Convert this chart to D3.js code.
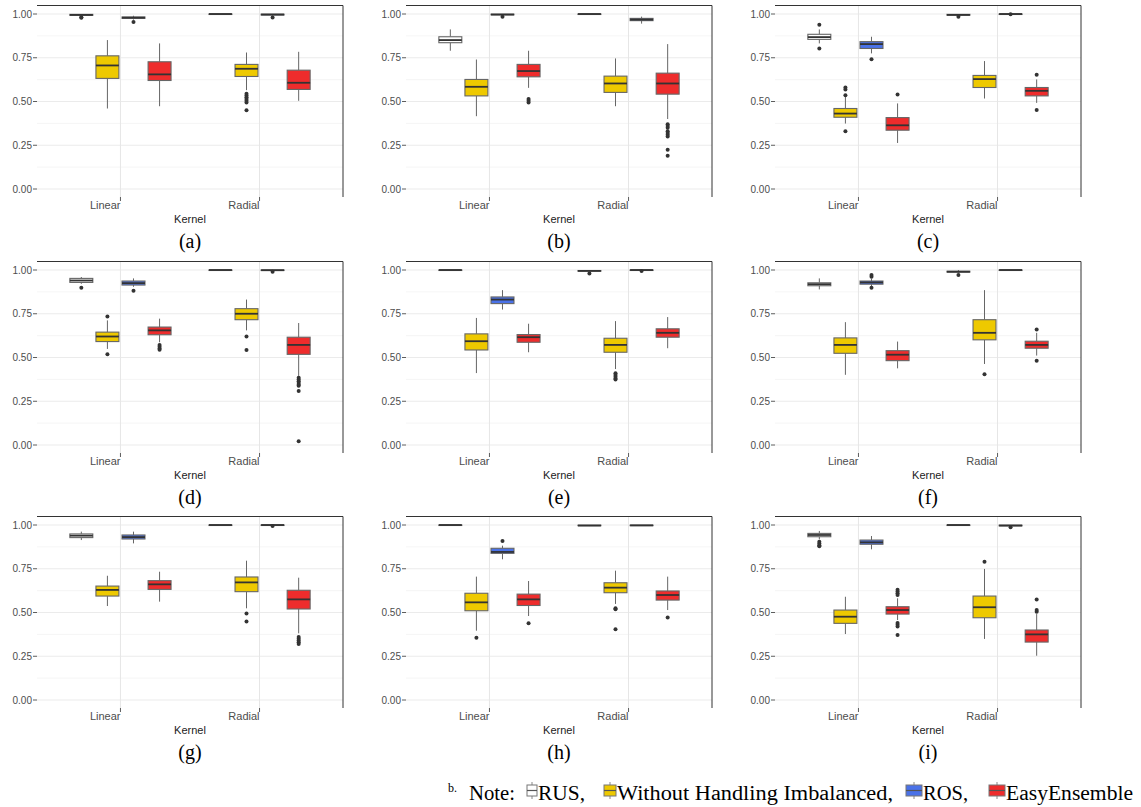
<html>
<head>
<script src="https://d3js.org/d3.v7.min.js"></script>
<style>
  body { margin: 0; background: white; }
  .tick-label { font: 10px "Liberation Sans", Arial, sans-serif; fill: #4d4d4d; }
  .axis-title { font: 11px "Liberation Sans", Arial, sans-serif; fill: #222; }
  .caption { font: 20px "Liberation Serif", "Times New Roman", serif; fill: #000; }
  .legend { font: 20px "Liberation Serif", "Times New Roman", serif; fill: #000; }
</style>
</head>
<body>
<svg id="chart" width="1141" height="807"></svg>
<script>
// categories
var captions = ["(a)", "(b)", "(c)", "(d)", "(e)", "(f)", "(g)", "(h)", "(i)"];
var kernels = ["Linear", "Radial"];
var methods = ["RUS", "Without Handling Imbalanced", "ROS", "EasyEnsemble"];
var yTicks = [0, 0.25, 0.5, 0.75, 1];
var yMinor = [0.125, 0.375, 0.625, 0.875];

// box stats per panel: [lower whisker, q1, median, q3, upper whisker]
// order: Linear RUS, Without, ROS, EasyEnsemble, then Radial RUS, Without, ROS, EasyEnsemble
var boxA = [[0.988,0.992,0.995,0.998,1.0],[0.46,0.632,0.706,0.761,0.851],[0.968,0.975,0.979,0.983,0.99],[0.473,0.62,0.655,0.727,0.832],
            [0.999,1,1,1,1],[0.565,0.643,0.687,0.712,0.78],[0.99,0.994,0.997,0.999,1.0],[0.504,0.569,0.607,0.679,0.784]];
var outA = [[0.982,0.978],[],[0.955],[],[],[0.545,0.535,0.525,0.515,0.505,0.495,0.45],[0.98],[]];

var boxB = [[0.79,0.836,0.851,0.87,0.912],[0.416,0.532,0.584,0.626,0.74],[0.99,0.995,0.997,0.999,1.0],[0.578,0.641,0.674,0.712,0.79],
            [0.999,1,1,1,1],[0.473,0.552,0.603,0.645,0.746],[0.945,0.962,0.968,0.975,0.985],[0.40,0.542,0.603,0.662,0.828]];
var outB = [[],[],[0.985],[0.515,0.505,0.495],[],[],[],[0.37,0.36,0.35,0.33,0.32,0.31,0.30,0.225,0.19]];

var boxC = [[0.832,0.855,0.868,0.884,0.912],[0.374,0.41,0.431,0.46,0.527],[0.775,0.803,0.828,0.842,0.87],[0.263,0.336,0.364,0.408,0.489],
            [0.99,0.993,0.995,0.998,1.0],[0.517,0.58,0.628,0.649,0.731],[0.999,1,1,1,1],[0.492,0.532,0.561,0.58,0.626]];
var outC = [[0.939,0.803],[0.58,0.569,0.536,0.33],[0.742],[0.54],[0.985],[],[0.998],[0.653,0.452]];

var boxD = [[0.921,0.929,0.94,0.952,0.96],[0.549,0.591,0.62,0.645,0.712],[0.904,0.914,0.925,0.937,0.952],[0.587,0.63,0.655,0.674,0.722],
            [0.999,1,1,1,1],[0.655,0.716,0.75,0.779,0.831],[0.995,0.997,0.999,1,1],[0.395,0.518,0.572,0.616,0.697]];
var outD = [[0.898],[0.735,0.518],[0.881],[0.572,0.562,0.552,0.545],[],[0.62,0.543],[0.99],[0.385,0.375,0.365,0.355,0.345,0.338,0.309,0.021]];

var boxE = [[0.999,1,1,1,1],[0.411,0.543,0.593,0.635,0.726],[0.774,0.808,0.831,0.846,0.885],[0.53,0.587,0.616,0.631,0.693],
            [0.99,0.993,0.995,0.997,1.0],[0.434,0.53,0.572,0.61,0.708],[0.998,1,1,1,1],[0.553,0.616,0.641,0.664,0.731]];
var outE = [[],[],[],[],[0.98],[0.41,0.40,0.39,0.38,0.375],[0.995],[]];

var boxF = [[0.889,0.91,0.919,0.927,0.952],[0.401,0.524,0.572,0.612,0.702],[0.905,0.919,0.929,0.937,0.95],[0.438,0.482,0.516,0.539,0.591],
            [0.985,0.988,0.99,0.993,1.0],[0.463,0.601,0.641,0.716,0.885],[0.999,1,1,1,1],[0.511,0.553,0.572,0.593,0.641]];
var outF = [[],[],[0.971,0.962,0.898],[],[0.971],[0.405],[],[0.66,0.482]];

var boxG = [[0.914,0.928,0.939,0.949,0.962],[0.537,0.594,0.629,0.651,0.71],[0.895,0.92,0.931,0.943,0.962],[0.562,0.632,0.661,0.682,0.733],
            [0.999,1,1,1,1],[0.524,0.619,0.672,0.703,0.796],[0.998,1,1,1,1],[0.381,0.52,0.575,0.627,0.699]];
var outG = [[],[],[],[],[],[0.495,0.448],[0.995],[0.36,0.35,0.34,0.33,0.32]];

var boxH = [[0.999,1,1,1,1],[0.396,0.51,0.558,0.61,0.705],[0.804,0.838,0.846,0.867,0.882],[0.48,0.54,0.575,0.605,0.68],
            [0.994,0.996,0.997,0.999,1.0],[0.549,0.613,0.642,0.67,0.739],[0.995,0.997,0.998,0.999,1],[0.514,0.571,0.6,0.623,0.705]];
var outH = [[],[0.356],[0.909],[0.438],[],[0.524,0.518,0.404],[],[0.472]];

var boxI = [[0.918,0.933,0.943,0.952,0.966],[0.377,0.438,0.476,0.514,0.59],[0.861,0.89,0.901,0.914,0.937],[0.457,0.491,0.514,0.533,0.581],
            [0.999,1,1,1,1],[0.349,0.47,0.53,0.594,0.749],[0.992,0.995,0.997,0.999,1.0],[0.253,0.331,0.375,0.40,0.491]];
var outI = [[0.905,0.895,0.885,0.878],[],[],[0.63,0.62,0.61,0.60,0.44,0.43,0.42,0.371],[],[0.79],[0.987],[0.575,0.514,0.505]];

var allBoxes = [boxA, boxB, boxC, boxD, boxE, boxF, boxG, boxH, boxI];
var allOut = [outA, outB, outC, outD, outE, outF, outG, outH, outI];

var fills = d3.scaleOrdinal().domain(methods).range(["#ffffff", "#eec900", "#4a72e8", "#ee2c2c"]);

var svg = d3.select("#chart");
var colLeft = [37, 406, 775];
var rowTop = [5, 261, 516];
var pw = 306, ph = 192;

captions.forEach(function(cap, p) {
  var left = colLeft[p % 3], top = rowTop[Math.floor(p / 3)];
  var g = svg.append("g").attr("transform", "translate(" + left + "," + top + ")");

  var x = d3.scaleLinear().domain([0.4, 2.6]).range([0, pw]);
  var y = d3.scaleLinear().domain([0, 1]).range([184, 9]);
  var dodge = d3.scaleBand().domain(methods).range([-0.375, 0.375]).paddingInner(0.12).paddingOuter(0.06);
  var unit = x(1) - x(0);

  // grid
  g.selectAll(".minor").data(yMinor).enter().append("line")
    .attr("x1", 0).attr("x2", pw).attr("y1", d => y(d)).attr("y2", d => y(d))
    .attr("stroke", "#f3f3f3").attr("stroke-width", 0.8);
  g.selectAll(".major").data(yTicks).enter().append("line")
    .attr("x1", 0).attr("x2", pw).attr("y1", d => y(d)).attr("y2", d => y(d))
    .attr("stroke", "#ebebeb").attr("stroke-width", 1.2);
  g.selectAll(".vgrid").data(kernels).enter().append("line")
    .attr("x1", (d, i) => x(i + 1)).attr("x2", (d, i) => x(i + 1))
    .attr("y1", 0).attr("y2", ph)
    .attr("stroke", "#e6e6e6").attr("stroke-width", 1);

  // panel border (top and right)
  g.append("path").attr("d", "M0,0.5H" + pw + "V" + ph)
    .attr("fill", "none").attr("stroke", "#333").attr("stroke-width", 1);

  // y axis
  var ya = g.append("g");
  ya.selectAll("line").data(yTicks).enter().append("line")
    .attr("x1", -4).attr("x2", 0).attr("y1", d => y(d)).attr("y2", d => y(d))
    .attr("stroke", "#333").attr("stroke-width", 0.8);
  ya.selectAll("text").data(yTicks).enter().append("text")
    .attr("class", "tick-label").attr("x", -5).attr("y", d => y(d)).attr("dy", "0.35em")
    .attr("text-anchor", "end").text(d => d3.format(".2f")(d));

  // x axis
  var xa = g.append("g");
  xa.selectAll("line").data(kernels).enter().append("line")
    .attr("x1", (d, i) => x(i + 1)).attr("x2", (d, i) => x(i + 1))
    .attr("y1", ph).attr("y2", ph + 4).attr("stroke", "#333").attr("stroke-width", 0.8);
  xa.selectAll("text").data(kernels).enter().append("text")
    .attr("class", "tick-label").attr("x", (d, i) => x(i + 1)).attr("y", ph + 12)
    .attr("text-anchor", "end").style("font-size", "11px").text(d => d);
  g.append("text").attr("class", "axis-title").attr("x", pw / 2).attr("y", ph + 26)
    .attr("text-anchor", "middle").text("Kernel");

  // boxes
  var stats = allBoxes[p], outs = allOut[p];
  stats.forEach(function(s, k) {
    var kern = Math.floor(k / 4), m = methods[k % 4];
    var cx = x(kern + 1) + (dodge(m) + dodge.bandwidth() / 2) * unit;
    var bw = dodge.bandwidth() * unit;
    var b = g.append("g");
    b.append("line").attr("x1", cx).attr("x2", cx).attr("y1", y(s[4])).attr("y2", y(s[3]))
      .attr("stroke", "#666").attr("stroke-width", 1);
    b.append("line").attr("x1", cx).attr("x2", cx).attr("y1", y(s[1])).attr("y2", y(s[0]))
      .attr("stroke", "#666").attr("stroke-width", 1);
    b.append("rect").attr("x", cx - bw / 2).attr("width", bw)
      .attr("y", y(s[3])).attr("height", Math.max(0.5, y(s[1]) - y(s[3])))
      .attr("fill", fills(m)).attr("stroke", "#666").attr("stroke-width", 1.1);
    b.append("line").attr("x1", cx - bw / 2).attr("x2", cx + bw / 2)
      .attr("y1", y(s[2])).attr("y2", y(s[2]))
      .attr("stroke", "#333").attr("stroke-width", 1.8);
    b.selectAll("circle").data(outs[k]).enter().append("circle")
      .attr("cx", cx).attr("cy", d => y(d)).attr("r", 2)
      .attr("fill", "#333");
  });

  // caption
  svg.append("text").attr("class", "caption")
    .attr("x", left + pw / 2).attr("y", top + 243)
    .attr("text-anchor", "middle").text(cap);
});

// legend (note line under the figure)
var legendText = ["RUS,", "Without Handling Imbalanced,", "ROS,", "EasyEnsemble"];
var legendStart = [538, 617, 923, 1006];
var legendWidth = [47, 276, 45, 127];
var iconWidth = [10, 12, 16, 16];
var ly = 800;
var lg = svg.append("g");
lg.append("text").attr("class", "legend").attr("x", 448).attr("y", ly - 8)
  .style("font-size", "12px").text("b.");
lg.append("text").attr("class", "legend").attr("x", 469).attr("y", ly)
  .attr("textLength", 46).attr("lengthAdjust", "spacingAndGlyphs").text("Note:");
methods.forEach(function(m, i) {
  var w = iconWidth[i];
  var ic = lg.append("g").attr("transform", "translate(" + (legendStart[i] - w / 2 - 1) + "," + (ly - 9) + ")");
  ic.append("line").attr("x1", 0).attr("x2", 0).attr("y1", -9).attr("y2", 8).attr("stroke", "#888");
  ic.append("rect").attr("x", -w / 2).attr("y", -6).attr("width", w).attr("height", 11)
    .attr("fill", fills(m)).attr("stroke", "#777").attr("stroke-width", 1);
  ic.append("line").attr("x1", -w / 2).attr("x2", w / 2).attr("y1", -0.5).attr("y2", -0.5)
    .attr("stroke", "#555").attr("stroke-width", 1.2);
  lg.append("text").attr("class", "legend").attr("x", legendStart[i]).attr("y", ly)
    .attr("textLength", legendWidth[i]).attr("lengthAdjust", "spacingAndGlyphs")
    .text(legendText[i]);
});
</script>
</body>
</html>
